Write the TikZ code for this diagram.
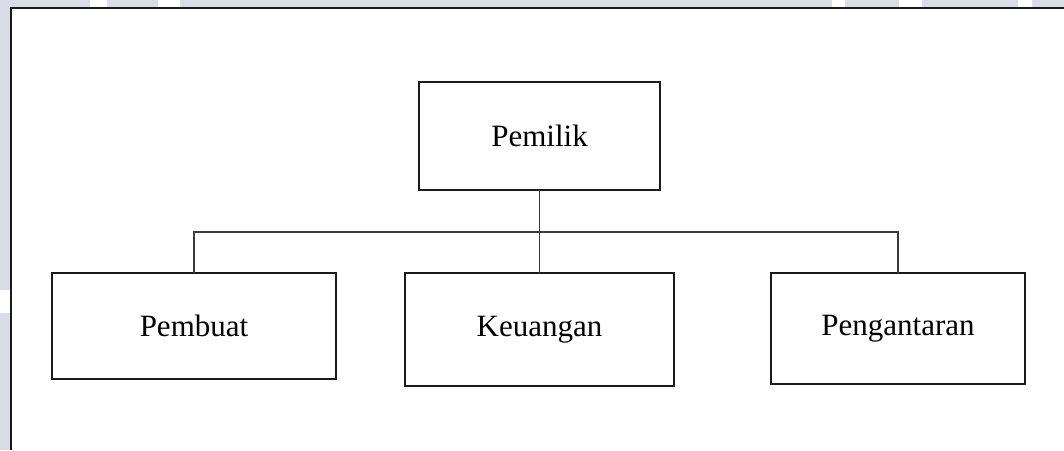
\documentclass[tikz,border=0pt]{standalone}
\usepackage{fontspec}
\setmainfont{Liberation Serif}
\usepackage{xcolor}
\usepackage{tikz}
\usetikzlibrary{positioning}
\definecolor{pagebg}{HTML}{DADDE8}
\definecolor{framecol}{HTML}{1A1A1A}

\begin{document}
\begin{tikzpicture}[
    x=1pt, y=-1pt,
    box/.style={draw=framecol, line width=1.9pt, fill=white, outer sep=0pt, inner sep=0pt, text centered, font=\fontsize{31}{36}\selectfont},
    line/.style={draw=framecol!85, line width=1.9pt},
    frame/.style={draw=framecol, line width=2pt}
]
    % page behind the chart
    \useasboundingbox (0,0) rectangle (1064,450);
    \fill[pagebg] (0,0) rectangle (1064,450);
    \fill[white] (90,0) rectangle (107,7) (158,0) rectangle (180,7) (832,0) rectangle (845,7) (899,0) rectangle (922,7) (1018,0) rectangle (1032,7);
    \fill[white] (0,290) rectangle (10,313);
    \fill[white] (11,8) rectangle (1064,450);
    \draw[frame] (11,450) -- (11,8) -- (1064,8);

    \node[box, minimum width=241pt, minimum height=108pt] (pemilik) at (539.5,136) {Pemilik};
    \node[box, minimum width=269pt, minimum height=113pt, below=83pt of pemilik] (keuangan) {Keuangan};
    \node[box, minimum width=284pt, minimum height=106pt, left=69pt of keuangan.north west, anchor=north east] (pembuat) {Pembuat};
    \node[box, minimum width=254pt, minimum height=111pt, right=97pt of keuangan.north east, anchor=north west] (pengantaran) {Pengantaran};
    \coordinate (bus) at (539.5,232);

    \draw[line] (pemilik.south) -- (keuangan.north);
    \draw[line] (pembuat.north) |- (bus) -| (pengantaran.north);
\end{tikzpicture}
\end{document}
